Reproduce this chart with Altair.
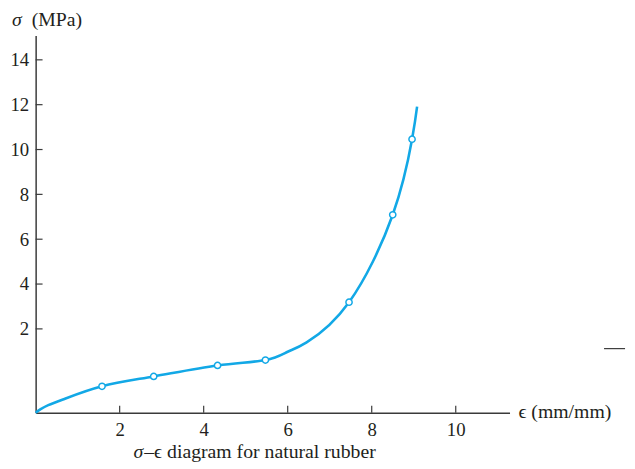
import altair as alt
import pandas as pd

# Curve (strain in mm/mm, stress in MPa)
curve_x = [0.0, 0.12, 0.3, 0.65, 1.58, 2.81, 4.33, 5.47, 6.0, 6.45, 7.46, 8.50, 8.96, 9.08]
curve_y = [-1.74, -1.58, -1.40, -1.15, -0.56, -0.12, 0.37, 0.61, 0.98, 1.40, 3.19, 7.09, 10.46, 11.91]

# Data points marked with open circles
pt_x = [1.58, 2.81, 4.33, 5.47, 7.46, 8.50, 8.96]
pt_y = [-0.56, -0.12, 0.37, 0.61, 3.19, 7.09, 10.46]

x_ticks = [2, 4, 6, 8, 10]
y_ticks = [2, 4, 6, 8, 10, 12, 14]

# stray dash at the right margin
dash_x = [13.53, 14.03]
dash_y = [1.12]

X_DOMAIN = [0, 11.28]
Y_DOMAIN = [-1.74, 15.08]
W, H = 480, 382
BLUE = "#12a8e6"
INK = "#231f20"
FONT = "Liberation Serif"

xs = alt.Scale(domain=X_DOMAIN, nice=False, zero=False)
ys = alt.Scale(domain=Y_DOMAIN, nice=False, zero=False)

curve_df = pd.DataFrame({"x": curve_x, "y": curve_y})
pt_df = pd.DataFrame({"x": pt_x, "y": pt_y})

base_axes = alt.Chart(curve_df).mark_line(
    color=BLUE, strokeWidth=2.6, interpolate="natural"
).encode(
    x=alt.X("x:Q", scale=xs,
            axis=alt.Axis(values=x_ticks, title=None, grid=False, ticks=False, tickSize=0,
                          labelPadding=8, domainColor="#3a3a3a", domainWidth=1.5)),
    y=alt.Y("y:Q", scale=ys,
            axis=alt.Axis(values=y_ticks, title=None, grid=False, ticks=False, tickSize=0,
                          labelPadding=7, domainColor="#3a3a3a", domainWidth=1.5)),
)

points = alt.Chart(pt_df).mark_point(
    shape="circle", filled=True, fill="white", stroke=BLUE, strokeWidth=1.5, size=40, opacity=1
).encode(x=alt.X("x:Q", scale=xs), y=alt.Y("y:Q", scale=ys))

xt = alt.Chart(pd.DataFrame({"v": x_ticks})).mark_rule(color="#3a3a3a", strokeWidth=1.2).encode(
    x=alt.X("v:Q", scale=xs), y=alt.value(H), y2=alt.value(H - 7)
)
yt = alt.Chart(pd.DataFrame({"v": y_ticks})).mark_rule(color="#3a3a3a", strokeWidth=1.2).encode(
    y=alt.Y("v:Q", scale=ys), x=alt.value(0), x2=alt.value(7)
)

dash = alt.Chart(pd.DataFrame({"x": [dash_x[0]], "x2": [dash_x[1]], "y": dash_y})).mark_rule(
    color="#3a3a3a", strokeWidth=1.2
).encode(x=alt.X("x:Q", scale=xs), x2="x2:Q", y=alt.Y("y:Q", scale=ys))


def label(txt, x, y, italic=False, align="left", size=20):
    return alt.Chart(pd.DataFrame({"t": [txt]})).mark_text(
        font=FONT, fontSize=size, color=INK, align=align, baseline="alphabetic",
        fontStyle="italic" if italic else "normal"
    ).encode(text="t:N", x=alt.value(x), y=alt.value(y))


ytitle_sigma = label("σ", -24, -10, italic=True)
ytitle_rest = label("(MPa)", -4, -10)
xtitle = label("ϵ (mm/mm)", 489, 387)
cap_sigma = label("σ", 99, 428, italic=True)
cap_rest = label("–ϵ diagram for natural rubber", 110, 428)

chart = alt.layer(
    base_axes, xt, yt, points, dash,
    ytitle_sigma, ytitle_rest, xtitle, cap_sigma, cap_rest
).properties(
    width=W, height=H,
    autosize=alt.AutoSizeParams(type="none"),
    padding={"left": 28, "top": 25, "right": 119, "bottom": 54},
).configure_view(stroke=None).configure_axis(
    labelFont=FONT, labelFontSize=19, labelColor=INK
)

chart.save("out.html", embed_options={"renderer": "svg", "actions": False})
